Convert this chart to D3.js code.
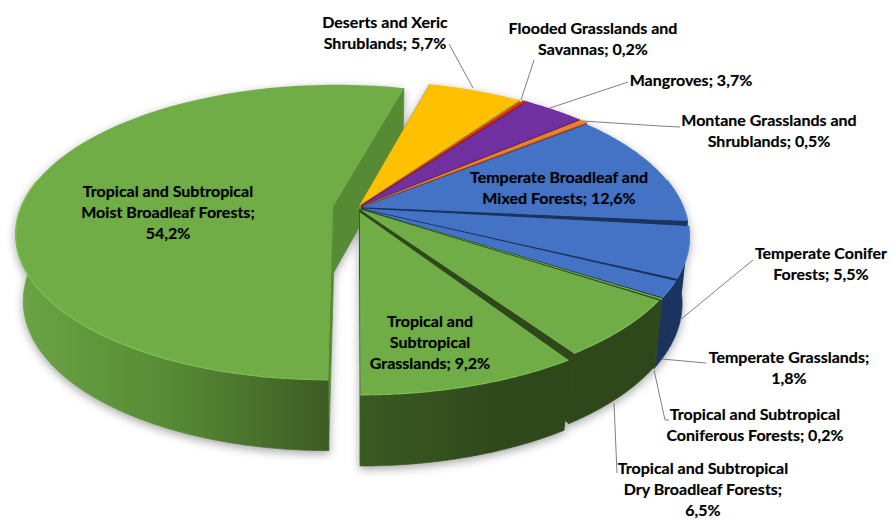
<!DOCTYPE html>
<html lang="en">
<head>
  <meta charset="UTF-8">
  <title>Biomes</title>
  <script src="https://d3js.org/d3.v7.min.js"></script>
  <style>
    html, body { margin: 0; padding: 0; background: #fff; }
    svg { display: block; }
    .pie { filter: drop-shadow(0 3px 5px rgba(0,0,0,.35)); }
    .label { font-family: Lato, "Open Sans", sans-serif; font-weight: 700; font-size: 16px; text-anchor: middle; fill: #000; text-shadow: 0 0 1px rgba(0,0,0,.3); }
    .leader { fill: none; stroke: #7f7f7f; stroke-width: 1px; }
  </style>
</head>
<body>
  <div id="chart-area"></div>

  <script>
    const categories = [
      "Tropical and Subtropical Moist Broadleaf Forests",
      "Deserts and Xeric Shrublands",
      "Flooded Grasslands and Savannas",
      "Mangroves",
      "Montane Grasslands and Shrublands",
      "Temperate Broadleaf and Mixed Forests",
      "Temperate Conifer Forests",
      "Temperate Grasslands",
      "Tropical and Subtropical Coniferous Forests",
      "Tropical and Subtropical Dry Broadleaf Forests",
      "Tropical and Subtropical Grasslands"
    ];
    const shares = [54.2, 5.7, 0.2, 3.7, 0.5, 12.6, 5.5, 1.8, 0.2, 6.5, 9.2];
    const labelLines = [
      ["Tropical and Subtropical", "Moist Broadleaf Forests;", "54,2%"],
      ["Deserts and Xeric", "Shrublands; 5,7%"],
      ["Flooded Grasslands and", "Savannas; 0,2%"],
      ["Mangroves; 3,7%"],
      ["Montane Grasslands and", "Shrublands; 0,5%"],
      ["Temperate Broadleaf and", "Mixed Forests; 12,6%"],
      ["Temperate Conifer", "Forests; 5,5%"],
      ["Temperate Grasslands;", "1,8%"],
      ["Tropical and Subtropical", "Coniferous Forests; 0,2%"],
      ["Tropical and Subtropical", "Dry Broadleaf Forests;", "6,5%"],
      ["Tropical and", "Subtropical", "Grasslands; 9,2%"]
    ];

    // look of each slice, same order as categories
    const topColors = ["#70ad47", "#ffc000", "#ff2a00", "#7030a0", "#ed7d31", "#4472c4", "#4472c4", "#4472c4", "#70ad47", "#70ad47", "#70ad47"];
    const wallColors = ["url(#bigRim)", "#a58a12", "#a52000", "#3b1a5c", "#a5531c", "#1b335f", "#1b335f", "#1b335f", "#2f4a1c", "#2e481b", "url(#frontRim)"];
    const sideColors = ["#578a35", "#a58a12", "#a52000", "#3b1a5c", "#a5531c", "#1b335f", "#1b335f", "#1b335f", "#2f4a1c", "#2e481b", "#2f4a1c"];
    const explode = [0.075, 0.02, 0.025, 0.025, 0.025, 0.015, 0.015, 0.015, 0.015, 0.012, 0.03];
    const radius = [0.97, 1, 1, 1, 1, 1, 1, 1, 1, 1, 1];
    const gapDeg = [0.3, 0.5, 0.2, 0.25, 0.25, 1.4, 0.5, 0.25, 0.25, 1.2, 0];

    // label centre x, first baseline y
    const labelPos = [[168, 197], [385, 28], [593, 34], [691, 86], [769, 126], [559, 183], [821, 259], [789, 363], [755, 420], [703, 474], [430, 327]];
    const lineGap = 21;
    const leaders = [
      null,
      [[449, 44], [473, 88]],
      [[534, 60], [521, 100]],
      [[628, 82], [550, 108]],
      [[680, 127], [660, 126], [583, 121]],
      null,
      [[753, 260], [680, 320]],
      [[706, 363], [662, 359]],
      [[669, 420], [665, 420], [654, 370]],
      [[617, 473], [614, 403]],
      null
    ];

    const width = 894, height = 519;
    const cx = 357, cy = 208;
    const perspective = 0.18;
    const depth = 66;

    const xScale = d3.scaleLinear().domain([-1, 1]).range([-322, 322]);
    const yScale = d3.scaleLinear().domain([-1, 1]).range([-148, 148]);

    const svg = d3.select("#chart-area").append("svg")
      .attr("width", width).attr("height", height);

    const defs = svg.append("defs");
    function addGradient(id, x1, x2, stops) {
      const g = defs.append("linearGradient").attr("id", id)
        .attr("gradientUnits", "userSpaceOnUse")
        .attr("x1", x1).attr("x2", x2).attr("y1", 0).attr("y2", 0);
      stops.forEach(s => g.append("stop").attr("offset", s[0]).attr("stop-color", s[1]));
    }
    addGradient("bigRim", 15, 330, [[0, "#6aa444"], [0.5, "#578a35"], [1, "#3c5c23"]]);
    addGradient("frontRim", 358, 640, [[0, "#3a5a22"], [0.5, "#30491c"], [1, "#2e471b"]]);

    function project(u, v, z) {
      const w = 1 + perspective * v;
      return [
        cx + xScale(u) / w * (1 - 0.022 * z),
        cy - yScale(v) / w + z * (depth - 5 * v)
      ];
    }

    const pieGen = d3.pie().sort(null)
      .startAngle(Math.PI).endAngle(3 * Math.PI);

    const arcs = pieGen(shares);
    const line = d3.line();
    const pie = svg.append("g").attr("class", "pie");

    arcs.forEach((arc, i) => {
      const a0 = arc.startAngle, a1 = arc.endAngle - gapDeg[i] * Math.PI / 180;
      const mid = (a0 + a1) / 2;
      const ou = explode[i] * Math.sin(mid), ov = explode[i] * Math.cos(mid);
      const at = (a, z) => project(ou + radius[i] * Math.sin(a), ov + radius[i] * Math.cos(a), z);
      const apex = z => project(ou, ov, z);
      const steps = d3.range(0, 61).map(k => a0 + (a1 - a0) * k / 60);
      // only the part of the rim that faces the viewer gets a wall
      const front = steps.filter(a => Math.cos(a) < 0.2);

      const g = pie.append("g");

      // side faces first, the top covers what should not show
      [a0, a1].forEach(a => {
        g.append("path")
          .attr("d", line([apex(0), at(a, 0), at(a, 1), apex(1)]) + "Z")
          .attr("fill", sideColors[i])
          .attr("stroke", sideColors[i])
          .attr("stroke-width", 0.7);
      });
      if (front.length > 1) {
        g.append("path")
          .attr("d", line(front.map(a => at(a, 0)).concat(front.slice().reverse().map(a => at(a, 1)))) + "Z")
          .attr("fill", wallColors[i])
          .attr("stroke", wallColors[i])
          .attr("stroke-width", 0.7);
      }
      g.append("path")
        .attr("d", line([apex(0)].concat(steps.map(a => at(a, 0)))) + "Z")
        .attr("fill", topColors[i]);
      // little bevel along the rim
      if (front.length > 1) {
        g.append("path")
          .attr("d", line(front.map(a => at(a, 0))))
          .attr("fill", "none")
          .attr("stroke", d3.color(topColors[i]).brighter(0.3))
          .attr("stroke-width", 1.2);
      }
    });

    svg.selectAll(".leader")
      .data(leaders.filter(d => d))
      .enter().append("path")
      .attr("class", "leader")
      .attr("d", d => line(d));

    const labels = svg.selectAll(".label")
      .data(labelLines)
      .enter().append("text")
      .attr("class", "label")
      .attr("x", (d, i) => labelPos[i][0])
      .attr("y", (d, i) => labelPos[i][1]);

    labels.selectAll("tspan")
      .data(d => d)
      .enter().append("tspan")
      .attr("x", function() { return this.parentNode.getAttribute("x"); })
      .attr("dy", (d, i) => i ? lineGap : 0)
      .text(d => d);
  </script>
</body>
</html>
